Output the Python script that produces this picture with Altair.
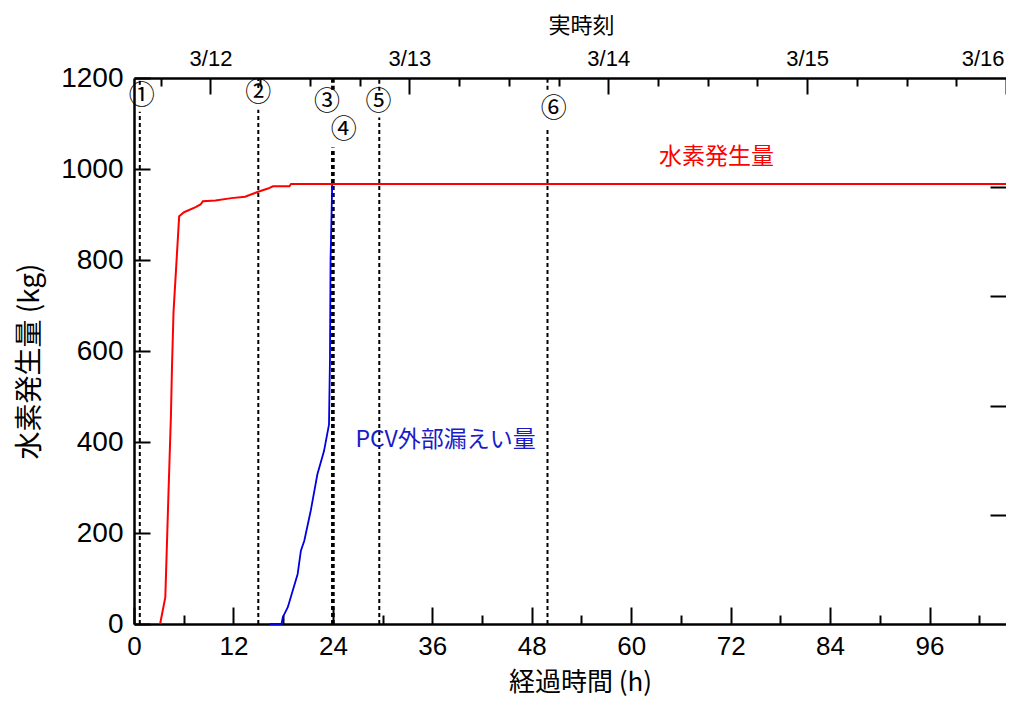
import altair as alt
import pandas as pd

# ---- data ----
# hydrogen generation (red)
h2_hours = [3.15, 3.78, 4.17, 4.46, 4.58, 4.77, 5.36, 5.45, 6.04, 7.44, 8.03, 8.31,
            9.82, 11.76, 13.4, 14.98, 16.17, 16.77, 18.76, 18.95, 105.23]
h2_kg = [0, 59, 293, 460, 562, 686, 868, 896, 905, 916, 922, 929,
         931, 936, 939, 950, 957, 962, 962, 967, 967]

# PCV outside leakage (blue)
leak_hours = [16.38, 17.8, 17.96, 18.56, 19.75, 20.14, 20.55, 21.34, 22.13, 22.93,
              23.53, 23.65, 23.72, 23.92]
leak_kg = [0, 0, 15, 37, 110, 161, 183, 250, 329, 380, 438, 584, 802, 966]

# event markers
marker_labels = ["①", "②", "③", "④", "⑤", "⑥"]
marker_hours = [0.7, 15.0, 23.9, 24.1, 29.6, 49.9]
marker_line_top = [1126, 1130, 1047, 1047, 1113, 1086]
marker_stub_bottom = [1185, 1178, 1174, 1174, 1172, 1174]
marker_label_hours = [0.95, 14.98, 23.3, 25.3, 29.5, 50.65]
marker_label_kg = [1161, 1167, 1148, 1086, 1148, 1132]

# series labels
series_names = ["水素発生量", "PCV外部漏えい量"]
series_label_hours = [70.3, 37.6]
series_label_kg = [1027, 404]
series_colors = ["#ff0000", "#1a1ac8"]

# axes
bottom_ticks = [0, 6, 12, 18, 24, 30, 36, 42, 48, 54, 60, 66, 72, 78, 84, 90, 96, 102]
left_ticks = [0, 200, 400, 600, 800, 1000, 1200]
right_ticks = [240, 480, 720, 960]
top_ticks = [3.23, 9.23, 15.23, 21.23, 27.23, 33.23, 39.23, 45.23, 51.23, 57.23,
             63.23, 69.23, 75.23, 81.23, 87.23, 93.23, 99.23, 105.23]
top_major = "abs((datum.value - 9.23) / 24 - round((datum.value - 9.23) / 24)) < 0.01"
top_label = "'3/' + (12 + round((datum.value - 9.23) / 24))"

JP = "Noto Sans CJK JP"
NUM = "Liberation Sans"

xscale = alt.Scale(domain=[0, 105.23], nice=False, zero=False)
yscale = alt.Scale(domain=[0, 1200], nice=False)

bottom_axis = alt.Axis(
    orient="bottom", values=bottom_ticks, grid=False,
    labelExpr="datum.value % 12 === 0 ? datum.label : ''",
    tickSize={"expr": "datum.value % 12 === 0 ? -17 : -9"},
    tickWidth=2, tickColor="black", domainColor="black", domainWidth=2.5,
    labelFont=NUM, labelFontSize=26,
    labelColor="black", labelPadding=26, labelFlush=False, labelOverlap=False,
    title="経過時間 (h)", titleFont=JP, titleFontSize=26, titleFontWeight="normal",
    titleColor="black", titleX=446, titleY=58, titleBaseline="middle", titleAlign="center",
)
left_axis = alt.Axis(
    orient="left", values=left_ticks, grid=False, format="d",
    tickSize={"expr": "-16"}, tickWidth=2, tickColor="black",
    domainColor="black", domainWidth=2.5,
    labelFont=NUM, labelFontSize=28, labelColor="black", labelPadding=27,
    labelFlush=False, labelOverlap=False,
    title="水素発生量 (kg)", titleFont=JP, titleFontSize=28, titleFontWeight="normal",
    titleColor="black", titleX=-104, titleY=283, titleAngle=270,
    titleBaseline="middle", titleAlign="center",
)
top_axis = alt.Axis(
    orient="top", values=top_ticks, grid=False,
    labelExpr=f"{top_major} ? {top_label} : ''",
    tickSize={"expr": f"{top_major} ? -16 : -8"},
    tickWidth=2, tickColor="black", domainColor="black", domainWidth=2.5,
    labelFont=NUM, labelFontSize=22, labelColor="black", labelPadding=24,
    labelFlush=True, labelFlushOffset=-2, labelOverlap=False,
    title="実時刻", titleFont=JP, titleFontSize=22, titleFontWeight="normal",
    titleColor="black", titleX=447, titleY=-53, titleBaseline="middle", titleAlign="center",
)
right_axis = alt.Axis(
    orient="right", values=right_ticks, grid=False, labels=False, domain=False,
    tickSize={"expr": "-16"}, tickWidth=2, tickColor="black", title=None,
)

# ---- tables ----
red_df = pd.DataFrame({"h": h2_hours, "kg": h2_kg})
blue_df = pd.DataFrame({"h": leak_hours, "kg": leak_kg})

rule_rows = []
for lab, h, top, stub in zip(marker_labels, marker_hours, marker_line_top, marker_stub_bottom):
    rule_rows.append({"h": h, "y1": 0, "y2": top, "m": lab})
    rule_rows.append({"h": h, "y1": stub, "y2": 1200, "m": lab})
rule_df = pd.DataFrame(rule_rows)

mark_df = pd.DataFrame({"h": marker_label_hours, "kg": marker_label_kg, "t": marker_labels})
series_df = pd.DataFrame({"h": series_label_hours, "kg": series_label_kg,
                          "t": series_names, "c": series_colors})

# ---- layers ----
rules = alt.Chart(rule_df).mark_rule(color="black", strokeWidth=2, strokeDash=[4, 3]).encode(
    x=alt.X("h:Q", scale=xscale, axis=top_axis),
    y=alt.Y("y1:Q", scale=yscale, axis=right_axis),
    y2="y2:Q",
)
blue = alt.Chart(blue_df).mark_line(color="#0000e0", strokeWidth=1.8).encode(
    x=alt.X("h:Q", scale=xscale, axis=None),
    y=alt.Y("kg:Q", scale=yscale, axis=None),
)
red = alt.Chart(red_df).mark_line(color="#ff0000", strokeWidth=2).encode(
    x=alt.X("h:Q", scale=xscale, axis=bottom_axis),
    y=alt.Y("kg:Q", scale=yscale, axis=left_axis),
)
markers = alt.Chart(mark_df).mark_text(font=JP, fontSize=26, color="black").encode(
    x=alt.X("h:Q", scale=xscale, axis=None),
    y=alt.Y("kg:Q", scale=yscale, axis=None),
    text="t:N",
)
series_text = alt.Chart(series_df).mark_text(font=JP, fontSize=23).encode(
    x=alt.X("h:Q", scale=xscale, axis=None),
    y=alt.Y("kg:Q", scale=yscale, axis=None),
    text="t:N",
    color=alt.Color("c:N", scale=None),
)

chart = alt.layer(rules, blue, red, markers, series_text).resolve_axis(
    x="independent", y="independent"
).properties(
    width=872, height=546,
    autosize=alt.AutoSizeParams(type="none"),
    padding={"left": 126, "top": 70, "right": 0, "bottom": 72},
    background="white",
).configure_view(stroke=None)

chart.save("out.html", embed_options={"renderer": "svg", "actions": False})
